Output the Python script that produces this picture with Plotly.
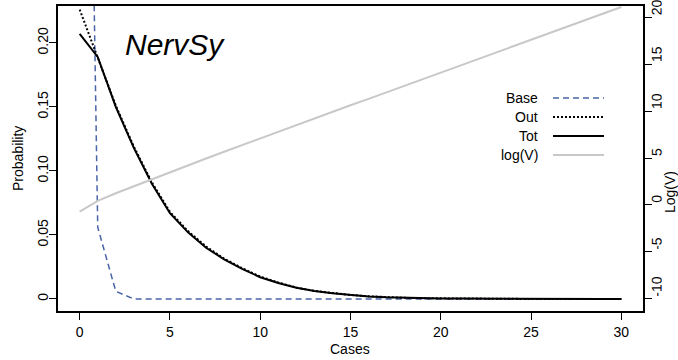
import plotly.graph_objects as go

cases = list(range(0, 31))
base = [0.94, 0.056, 0.006] + [0.0] * 28
tot = [0.207, 0.189, 0.150, 0.118, 0.090, 0.067, 0.052, 0.040, 0.031, 0.0235,
       0.017, 0.0125, 0.0087, 0.0062, 0.0044, 0.0030, 0.0020, 0.0013, 0.0009,
       0.0006, 0.0004, 0.0003, 0.0002, 0.0001, 0.0001, 0.0, 0.0, 0.0, 0.0, 0.0, 0.0]
out = [0.226, 0.189, 0.151, 0.119, 0.091, 0.068, 0.053, 0.041, 0.0315, 0.024,
       0.0175, 0.0128, 0.0089, 0.0063, 0.0045, 0.0031, 0.0021, 0.0014, 0.0009,
       0.0006, 0.0004, 0.0003, 0.0002, 0.0001, 0.0001, 0.0, 0.0, 0.0, 0.0, 0.0, 0.0]
logv = [-0.70, 0.43, 1.25, 2.0, 2.77, 3.5, 4.22, 4.95, 5.67, 6.38, 7.1, 7.82,
        8.55, 9.25, 9.95, 10.63, 11.3, 12.0, 12.68, 13.35, 14.05, 14.75, 15.46,
        16.17, 16.88, 17.6, 18.3, 19.0, 19.7, 20.4, 21.1]

prob_ticks = [0, 0.05, 0.10, 0.15, 0.20]
prob_labels = ["0", "0.05", "0.10", "0.15", "0.20"]
logv_ticks = [-10, -5, 0, 5, 10, 15, 20]
logv_labels = ["-10", "-5", "0", "5", "10", "15", "20"]
x_ticks = [0, 5, 10, 15, 20, 25, 30]

legend_names = ["Base", "Out", "Tot", "log(V)"]
BLUE = "#4a64a8"
GRAY = "#c8c8c8"
legend_styles = [(BLUE, "dash", 1.5), ("black", "dot", 2), ("black", "solid", 2), (GRAY, "solid", 2)]

FONT = "Liberation Sans, Arial, sans-serif"

fig = go.Figure()
fig.add_trace(go.Scatter(x=cases, y=logv, yaxis="y2", mode="lines",
                         line=dict(color=GRAY, width=2), name="log(V)"))
fig.add_trace(go.Scatter(x=cases, y=base, mode="lines",
                         line=dict(color=BLUE, width=1.5, dash="6px,4px"), name="Base"))
fig.add_trace(go.Scatter(x=cases, y=out, mode="lines",
                         line=dict(color="black", width=2, dash="2px,2px"), name="Out"))
fig.add_trace(go.Scatter(x=cases, y=tot, mode="lines",
                         line=dict(color="black", width=2), name="Tot"))

axis_common = dict(showgrid=False, zeroline=False, showline=True, linecolor="black",
                   linewidth=1.5, ticks="outside", ticklen=7, tickwidth=1.2, automargin=False,
                   tickcolor="black", tickfont=dict(family=FONT, size=14, color="black"))

fig.update_layout(
    width=678, height=360,
    margin=dict(l=58, r=35, t=6, b=49),
    paper_bgcolor="white", plot_bgcolor="white",
    showlegend=False,
    font=dict(family=FONT, size=14, color="black"),
    xaxis=dict(range=[-1.2, 31.2], tickvals=x_ticks, mirror=True, **axis_common),
    yaxis=dict(range=[-0.0094, 0.2288], tickvals=prob_ticks, ticktext=prob_labels,
               tickangle=-90, mirror=True, ticklabeloverflow="allow",
               ticklabelstandoff=-4, **axis_common),
    yaxis2=dict(range=[-11.3, 21.2], tickvals=logv_ticks, ticktext=logv_labels,
                tickangle=-89.9, overlaying="y", side="right", ticklabeloverflow="allow",
                **axis_common),
)

plot_top, plot_h = 6, 305
plot_l, plot_w = 58, 585


def px_x(px):
    return (px - plot_l) / plot_w


def px_y(py):
    return 1 - (py - plot_top) / plot_h


fig.add_annotation(text="Cases", xref="paper", yref="paper", x=px_x(350), y=px_y(349),
                   xanchor="center", yanchor="middle", showarrow=False,
                   font=dict(family=FONT, size=14, color="black"))
fig.add_annotation(text="Probability", xref="paper", yref="paper", x=px_x(18), y=px_y(158),
                   xanchor="center", yanchor="middle", textangle=-90, showarrow=False,
                   font=dict(family=FONT, size=14, color="black"))
fig.add_annotation(text="Log(V)", xref="paper", yref="paper", x=px_x(670), y=px_y(192),
                   xanchor="center", yanchor="middle", textangle=-90, showarrow=False,
                   font=dict(family=FONT, size=14, color="black"))

fig.add_annotation(text="<i>NervSy</i>", xref="paper", yref="paper", x=px_x(123), y=px_y(44),
                   xanchor="left", yanchor="middle", showarrow=False,
                   font=dict(family=FONT, size=30, color="black"))

# custom legend: text on the left, line sample on the right (R style)
row_y = [98, 117, 136, 155]
for name, (col, dash, w), py in zip(legend_names, legend_styles, row_y):
    yp = px_y(py)
    fig.add_annotation(text=name, xref="paper", yref="paper",
                       x=px_x(540), y=yp, xanchor="right", yanchor="middle",
                       showarrow=False, font=dict(family=FONT, size=14, color="black"))
    d = {"dash": "6px,4px", "dot": "2px,2px", "solid": "solid"}[dash]
    fig.add_shape(type="line", xref="paper", yref="paper",
                  x0=px_x(553), x1=px_x(604), y0=yp, y1=yp,
                  line=dict(color=col, width=w, dash=d))

fig.write_html("out.html", config={"displayModeBar": False},
               post_script="document.body.style.margin='0';document.body.style.overflow='hidden';")
